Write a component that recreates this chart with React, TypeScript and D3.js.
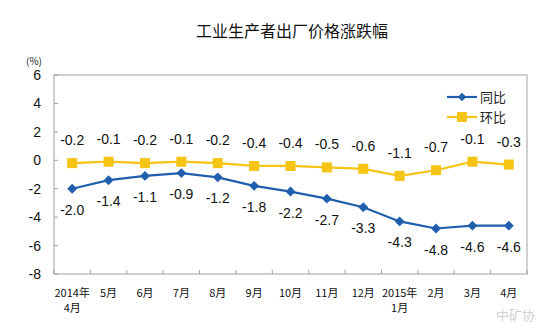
import React from "react";
import * as d3 from "d3";

const categories = ["2014年|4月", "5月", "6月", "7月", "8月", "9月", "10月", "11月", "12月", "2015年|1月", "2月", "3月", "4月"];
const yoy = [-2.0, -1.4, -1.1, -0.9, -1.2, -1.8, -2.2, -2.7, -3.3, -4.3, -4.8, -4.6, -4.6];
const mom = [-0.2, -0.1, -0.2, -0.1, -0.2, -0.4, -0.4, -0.5, -0.6, -1.1, -0.7, -0.1, -0.3];
const yTicks = [6, 4, 2, 0, -2, -4, -6, -8];

const W = 546, H = 325;
const left = 54, right = 527, top = 75, bottom = 274;
const BLUE = "#1f5fae";
const YELLOW = "#f5c414";
const NUM_FONT = "'Liberation Sans', Arial, sans-serif";
const CJK_FONT = "'Noto Sans CJK SC', sans-serif";

export default function App() {
  const x = d3.scaleBand<number>().domain(d3.range(categories.length)).range([left, right]);
  const y = d3.scaleLinear().domain([-8, 6]).range([bottom, top]);
  const cx = (i: number) => (x(i) as number) + x.bandwidth() / 2;
  const line = d3.line<number>().x((_, i) => cx(i)).y((d) => y(d));

  return (
    <svg width={W} height={H} style={{ position: "absolute", left: 0, top: 0, background: "#fff" }}>
      <text x={292} y={37} textAnchor="middle" fontFamily={CJK_FONT} fontSize={16} fill="#111">工业生产者出厂价格涨跌幅</text>
      <text x={34} y={65} textAnchor="middle" fontFamily={CJK_FONT} fontSize={10} fill="#222">(%)</text>
      {/* frame */}
      <rect x={left} y={top} width={right - left} height={bottom - top} fill="none" stroke="#a0a0a0" strokeWidth={1} />
      {yTicks.map((t) => (
        <g key={t}>
          <line x1={left} x2={left + 4} y1={y(t)} y2={y(t)} stroke="#a0a0a0" />
          <text x={41} y={y(t) + 5} textAnchor="end" fontFamily={NUM_FONT} fontSize={14} fill="#111">{t}</text>
        </g>
      ))}
      {d3.range(categories.length + 1).map((i) => {
        const xx = left + i * x.step();
        return <line key={i} x1={xx} x2={xx} y1={bottom} y2={bottom - 4} stroke="#a0a0a0" />;
      })}
      {categories.map((c, i) => {
        const parts = c.split("|");
        return (
          <text key={i} textAnchor="middle" fontFamily={CJK_FONT} fontSize={11} fill="#111">
            {parts.map((p, j) => (
              <tspan key={j} x={cx(i)} y={297 + j * 15}>{p}</tspan>
            ))}
          </text>
        );
      })}
      {/* yoy */}
      <path d={line(yoy) || ""} fill="none" stroke={BLUE} strokeWidth={2.2} />
      {yoy.map((v, i) => (
        <rect key={i} x={cx(i) - 3.5} y={y(v) - 3.5} width={7} height={7} fill={BLUE} transform={`rotate(45 ${cx(i)} ${y(v)})`} />
      ))}
      {yoy.map((v, i) => (
        <text key={i} x={cx(i)} y={y(v) + 26} textAnchor="middle" fontFamily={NUM_FONT} fontSize={14} fill="#111">{v.toFixed(1)}</text>
      ))}
      {/* mom */}
      <path d={line(mom) || ""} fill="none" stroke={YELLOW} strokeWidth={2.2} />
      {mom.map((v, i) => (
        <rect key={i} x={cx(i) - 5} y={y(v) - 5} width={10} height={10} fill={YELLOW} />
      ))}
      {mom.map((v, i) => (
        <text key={i} x={cx(i)} y={y(v) - 18} textAnchor="middle" fontFamily={NUM_FONT} fontSize={14} fill="#111">{v.toFixed(1)}</text>
      ))}
      {/* legend */}
      <line x1={447} x2={477} y1={97} y2={97} stroke={BLUE} strokeWidth={2.2} />
      <rect x={459} y={94} width={6} height={6} fill={BLUE} transform="rotate(45 462 97)" />
      <text x={480} y={102} fontFamily={CJK_FONT} fontSize={13} fill="#222">同比</text>
      <line x1={447} x2={477} y1={117} y2={117} stroke={YELLOW} strokeWidth={2.2} />
      <rect x={457} y={112} width={10} height={10} fill={YELLOW} />
      <text x={480} y={122} fontFamily={CJK_FONT} fontSize={13} fill="#222">环比</text>
      {/* watermark */}
      <text x={496} y={320} fontFamily={CJK_FONT} fontSize={13} fill="#c8c8c8" opacity={0.8}>中矿协</text>
    </svg>
  );
}
